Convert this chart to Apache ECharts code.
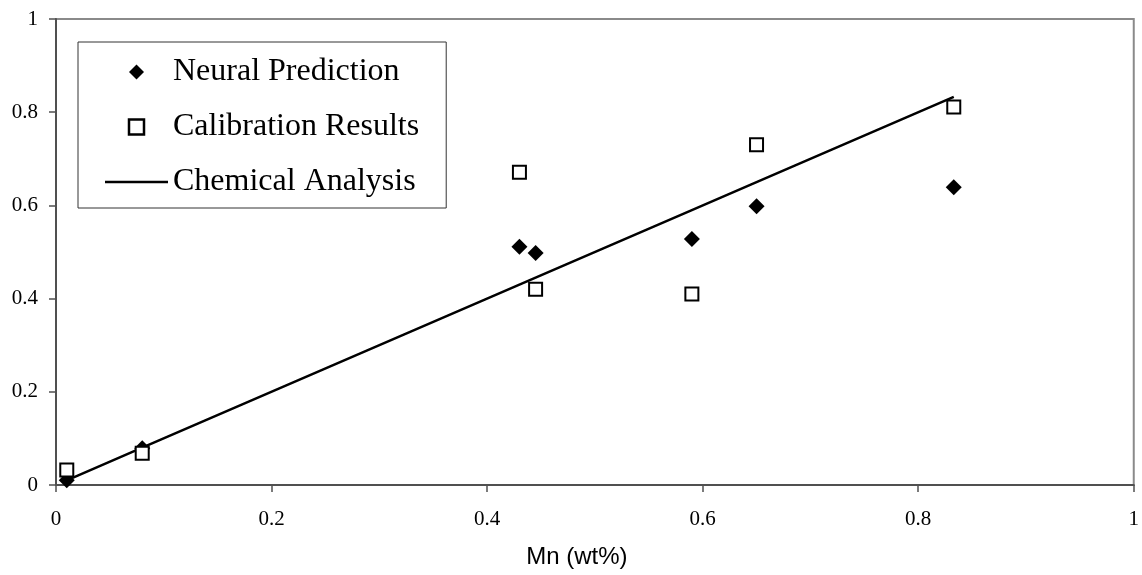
<!DOCTYPE html>
<html>
<head>
<meta charset="utf-8">
<script src="https://cdn.jsdelivr.net/npm/echarts@6/dist/echarts.min.js"></script>
<style>html,body{margin:0;padding:0;background:#fff}#c{width:1142px;height:575px}</style>
</head>
<body>
<div id="c"></div>
<script>
const mnValues = [0.01, 0.08, 0.43, 0.445, 0.59, 0.65, 0.833];
const neuralPrediction = [0.01, 0.079, 0.511, 0.498, 0.528, 0.598, 0.639];
const calibrationResults = [0.032, 0.068, 0.671, 0.42, 0.41, 0.73, 0.811];
const chemicalAnalysis = [0.01, 0.08, 0.43, 0.445, 0.59, 0.65, 0.833];
const seriesNames = ['Neural Prediction', 'Calibration Results', 'Chemical Analysis'];
const xAxisTitle = 'Mn (wt%)';

const pair = (ys) => mnValues.map((x, i) => [x, ys[i]]);
const serif = "'Liberation Serif', 'Times New Roman', serif";

const chart = echarts.init(document.getElementById('c'), null, {renderer: 'canvas'});
chart.setOption({
  animation: false,
  backgroundColor: '#fff',
  grid: {left: 56, right: 7, top: 19, bottom: 90, show: true, borderColor: '#8a8a8a', borderWidth: 2, backgroundColor: 'transparent'},
  xAxis: {
    type: 'value', min: 0, max: 1, interval: 0.2,
    splitLine: {show: false},
    axisLine: {onZero: false, lineStyle: {color: '#505050', width: 2}},
    axisTick: {show: true, inside: false, length: 7, lineStyle: {color: '#505050', width: 1.5}},
    axisLabel: {color: '#000', fontFamily: serif, fontSize: 21, margin: 24, formatter: v => String(+v.toFixed(1))},
    name: xAxisTitle, nameLocation: 'middle', nameGap: 60,
    nameTextStyle: {color: '#000', fontFamily: "'Liberation Sans', Arial, sans-serif", fontSize: 24, padding: [0, 36, 0, 0]}
  },
  yAxis: {
    type: 'value', min: 0, max: 1, interval: 0.2,
    splitLine: {show: false},
    axisLine: {onZero: false, lineStyle: {color: '#505050', width: 2}},
    axisTick: {show: true, inside: false, length: 7, lineStyle: {color: '#505050', width: 1.5}},
    axisLabel: {color: '#000', fontFamily: serif, fontSize: 21, margin: 18, formatter: v => String(+v.toFixed(1))}
  },
  legend: {
    orient: 'vertical', left: 78, top: 42,
    padding: [14, 27, 10, 27], itemGap: 23, itemWidth: 63, itemHeight: 15,
    symbolKeepAspect: true,
    borderColor: '#333', borderWidth: 1, backgroundColor: '#fff',
    data: [
      {name: seriesNames[0], icon: 'path://M5,0L10,5L5,10L0,5Z'},
      {name: seriesNames[1], icon: 'path://M0,0L10,0L10,10L0,10Z', itemStyle: {borderWidth: 2.5}},
      {name: seriesNames[2], icon: 'path://M0,0L63,0L63,2.5L0,2.5Z'}
    ],
    textStyle: {color: '#000', fontFamily: serif, fontSize: 32}
  },
  series: [
    {name: seriesNames[0], type: 'scatter', data: pair(neuralPrediction), symbol: 'diamond', symbolSize: 16,
     itemStyle: {color: '#000', opacity: 1}, z: 3},
    {name: seriesNames[1], type: 'scatter', data: pair(calibrationResults), symbol: 'rect', symbolSize: 13,
     itemStyle: {color: '#fff', borderColor: '#000', borderWidth: 2, opacity: 1}, z: 3},
    {name: seriesNames[2], type: 'line', data: pair(chemicalAnalysis), symbol: 'none', showSymbol: false,
     lineStyle: {color: '#000', width: 2.5}, itemStyle: {color: '#000'}, z: 2}
  ]
});
</script>
</body>
</html>
